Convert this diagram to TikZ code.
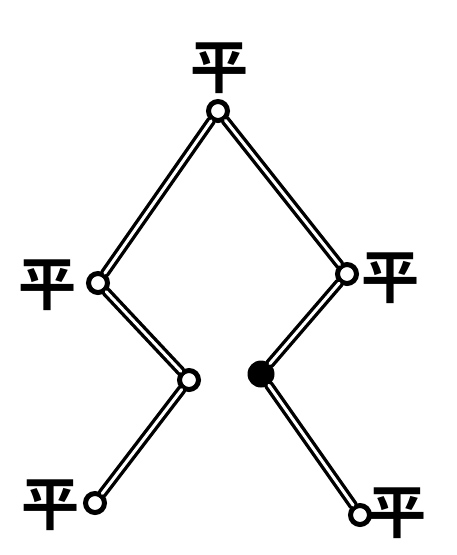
\documentclass[tikz,border=0pt]{standalone}
\usepackage{fontspec}
\newfontfamily\cjk{Noto Sans CJK SC}[BoldFont={* Bold}]
\begin{document}
\begin{tikzpicture}[x=1pt,y=-1pt,
  joint/.style={circle,draw=black,line width=5pt,fill=white,inner sep=0pt,minimum size=19pt},
  solidjoint/.style={circle,fill=black,inner sep=0pt,minimum size=27pt},
  lbl/.style={font=\cjk\bfseries\fontsize{58}{58}\selectfont,inner sep=0pt},
  rod/.style={draw=black,line width=3.4pt,double=white,double distance=3pt,line cap=round}]
\useasboundingbox (0,0) rectangle (456,555);
\node[joint] (t) at (218,111) {};
\node[joint] (lm) at (98,283) {};
\node[joint] (rm) at (347,274) {};
\node[joint] (il) at (189,380) {};
\node[solidjoint] (ir) at (261,374) {};
\node[joint] (bl) at (95,503) {};
\node[joint] (br) at (360,515) {};
\draw[rod] (t) -- (lm);
\draw[rod] (t) -- (rm);
\draw[rod] (lm) -- (il);
\draw[rod] (il) -- (bl);
\draw[rod] (rm) -- (ir);
\draw[rod] (ir) -- (br);
\node[lbl] (lt) at (219,68) {平};
\node[lbl] (llm) at (47,285) {平};
\node[lbl] (lrm) at (390,278) {平};
\node[lbl] (lbl1) at (50,505) {平};
\node[lbl] (lbr) at (397,513) {平};
\end{tikzpicture}
\end{document}
